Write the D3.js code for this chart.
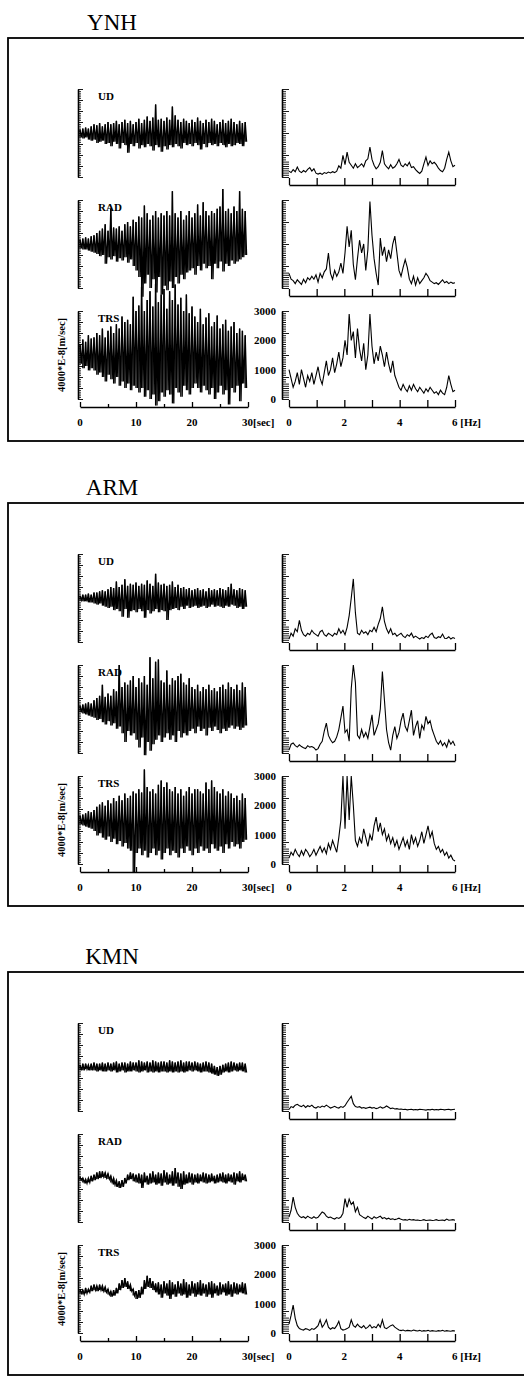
<!DOCTYPE html>
<html>
<head>
<meta charset="utf-8">
<script src="https://cdnjs.cloudflare.com/ajax/libs/d3/7.8.5/d3.min.js"></script>
<style>
  body { margin: 0; background: #fff; }
  svg { display: block; }
  text { font-family: "Liberation Serif", "DejaVu Serif", serif; fill: #000; }
</style>
</head>
<body>
<div id="chart"></div>
<script>
var stations = ["YNH", "ARM", "KMN"];
var components = ["UD", "RAD", "TRS"];
var timeStep = 0.5;      // sec per trace bin
var freqStep = 0.075;    // Hz per spectrum sample
var timeTicks = [0, 10, 20, 30];
var freqTicks = [0, 2, 4, 6];
var ampTicks = [0, 1000, 2000, 3000];

// seismogram band (max / min per 0.5 s bin), 1e-6 m/sec
var ynhUdHi = [3,4,5,4,6,8,7,9,6,8,10,8,9,11,8,10,12,9,11,8,10,13,9,12,15,11,14,26,12,13,11,14,12,24,16,12,10,13,11,9,12,10,14,11,9,12,10,13,11,8,10,12,9,11,13,10,8,11,9,10];
var ynhUdLo = [-4,-5,-4,-6,-7,-6,-9,-8,-7,-10,-9,-12,-8,-10,-14,-9,-11,-18,-10,-12,-9,-14,-11,-13,-10,-12,-16,-11,-13,-17,-12,-15,-11,-13,-10,-12,-14,-9,-11,-10,-12,-9,-11,-15,-10,-13,-9,-11,-10,-12,-9,-11,-13,-10,-12,-11,-9,-10,-12,-8];
var ynhRadHi = [4,5,6,5,7,8,10,12,14,18,12,32,15,14,16,12,18,20,16,22,20,25,24,35,28,22,26,30,24,28,26,30,26,48,28,24,30,22,26,30,24,28,36,26,38,30,26,30,28,32,34,50,30,32,28,34,30,48,32,30];
var ynhRadLo = [-4,-5,-5,-6,-7,-8,-9,-11,-10,-18,-12,-14,-11,-16,-13,-15,-12,-17,-14,-20,-24,-30,-48,-36,-28,-40,-32,-44,-30,-46,-38,-42,-34,-40,-30,-36,-28,-32,-26,-24,-22,-28,-20,-24,-18,-22,-20,-32,-18,-22,-16,-25,-18,-20,-15,-18,-16,-14,-12,-10];
var ynhTrsHi = [10,14,12,18,15,16,20,18,24,16,22,26,20,28,24,35,30,32,28,53,40,45,62,40,50,58,44,65,48,55,60,42,58,50,64,46,52,40,55,38,44,35,30,42,28,34,38,26,30,36,24,28,32,22,26,30,20,24,22,18];
var ynhTrsLo = [-8,-12,-10,-14,-12,-14,-18,-16,-20,-24,-18,-22,-26,-20,-28,-24,-30,-26,-32,-28,-30,-34,-30,-38,-32,-40,-36,-46,-42,-34,-38,-32,-36,-44,-30,-34,-38,-28,-32,-36,-30,-26,-30,-34,-28,-32,-36,-30,-40,-34,-28,-36,-32,-45,-30,-34,-28,-42,-26,-30];

var armUdHi = [2,3,3,4,3,5,5,6,7,6,8,10,9,15,10,12,17,11,13,12,14,11,13,12,16,13,11,22,14,12,13,11,12,15,10,12,9,10,8,9,7,8,9,7,8,6,9,7,8,7,9,8,7,10,13,8,7,9,8,7];
var armUdLo = [-2,-3,-3,-4,-4,-5,-6,-5,-7,-8,-9,-8,-11,-10,-12,-17,-10,-18,-12,-11,-13,-10,-12,-18,-11,-14,-12,-10,-13,-11,-12,-20,-11,-10,-9,-11,-8,-10,-7,-9,-8,-7,-9,-8,-7,-9,-8,-6,-8,-7,-8,-9,-7,-8,-6,-7,-9,-8,-10,-8];
var armRadHi = [3,4,5,6,5,8,10,12,22,11,14,12,18,16,40,20,24,22,26,30,20,28,24,30,22,47,28,43,45,26,24,35,22,28,26,30,32,24,22,28,20,18,22,16,20,18,22,17,19,16,20,22,18,24,20,18,22,17,24,20];
var armRadLo = [-3,-4,-5,-6,-7,-8,-10,-9,-12,-14,-11,-15,-13,-18,-16,-22,-30,-20,-24,-22,-28,-35,-26,-42,-30,-38,-32,-28,-24,-30,-26,-22,-28,-24,-30,-20,-26,-22,-24,-20,-18,-22,-16,-20,-18,-24,-17,-20,-16,-19,-22,-18,-20,-17,-15,-18,-16,-19,-17,-15];
var armTrsHi = [4,5,6,8,7,9,12,14,16,13,18,15,20,17,22,18,24,20,22,26,24,28,25,46,30,26,28,24,32,36,30,34,28,26,30,24,28,22,26,30,24,28,28,26,24,34,28,36,30,26,24,28,22,26,24,20,22,18,24,20];
var armTrsLo = [-4,-5,-6,-7,-8,-10,-14,-12,-16,-18,-15,-20,-17,-22,-19,-24,-21,-26,-28,-48,-30,-26,-32,-28,-34,-30,-26,-32,-28,-36,-30,-26,-32,-28,-30,-34,-26,-30,-24,-28,-32,-26,-30,-24,-28,-26,-30,-22,-26,-28,-24,-30,-22,-26,-20,-24,-22,-26,-20,-18];

var kmnUdHi = [2,3,3,2,3,4,3,3,4,3,4,3,4,5,3,4,4,3,5,4,4,6,5,4,5,4,6,5,4,5,5,4,6,5,4,5,6,4,5,5,4,5,4,3,4,5,4,3,1,0,1,2,3,4,5,4,3,4,4,3];
var kmnUdLo = [-3,-3,-2,-3,-3,-3,-4,-3,-4,-4,-3,-4,-3,-5,-4,-3,-5,-4,-4,-3,-4,-5,-4,-3,-5,-4,-5,-4,-5,-4,-4,-5,-4,-5,-4,-5,-4,-5,-4,-3,-4,-3,-4,-5,-4,-4,-5,-6,-7,-8,-7,-5,-4,-5,-4,-3,-4,-3,-4,-5];
var kmnRadHi = [1,0,-1,0,2,3,5,6,6,5,4,2,0,-2,-3,-2,0,3,5,4,3,4,3,5,2,4,6,3,5,4,7,5,3,6,9,5,4,6,3,5,4,3,4,3,5,4,3,4,2,3,4,5,3,4,3,5,4,6,4,3];
var kmnRadLo = [-2,-4,-5,-4,-3,-2,-1,0,1,0,-1,-4,-6,-8,-9,-8,-5,-2,-1,-3,-4,-5,-9,-4,-6,-5,-4,-6,-5,-7,-4,-6,-5,-7,-5,-8,-10,-6,-5,-4,-6,-4,-5,-3,-4,-5,-4,-3,-5,-4,-3,-4,-5,-3,-4,-6,-3,-4,-2,-3];
var kmnTrsHi = [0,-1,1,0,3,4,3,4,3,2,0,-2,-1,1,5,8,10,7,4,0,-2,-1,2,8,12,10,7,5,6,4,7,5,8,6,4,7,5,9,6,4,7,5,6,8,5,4,6,7,5,3,6,4,5,7,4,6,5,4,6,5];
var kmnTrsLo = [-4,-5,-4,-3,-2,-1,-2,-1,-2,-3,-5,-7,-6,-4,-1,1,2,0,-2,-6,-9,-8,-5,0,2,1,-1,-3,-5,-8,-4,-6,-9,-5,-7,-4,-6,-5,-8,-6,-4,-7,-5,-6,-4,-7,-5,-8,-4,-6,-5,-3,-6,-5,-7,-4,-5,-3,-4,-5];

// Fourier spectra, 0 - 6 Hz every 0.075 Hz
var ynhUdSpec = [200,150,250,180,340,200,150,220,170,260,320,200,280,130,100,130,90,150,120,170,140,180,150,200,380,300,740,420,850,500,400,300,450,320,380,450,350,550,620,1020,600,400,280,350,500,900,450,350,280,420,300,350,450,600,400,350,450,380,500,320,350,250,180,120,200,450,680,400,550,450,500,420,300,220,180,300,600,850,550,350,400];
var ynhRadSpec = [500,300,250,150,280,200,120,300,180,350,280,400,300,450,200,500,350,550,650,1190,500,300,600,400,550,850,500,1200,2100,1400,1970,800,280,1000,1630,1200,1500,600,1300,2950,1800,1000,500,100,1700,1100,1400,900,1300,1000,1500,1770,1200,600,400,700,970,700,300,150,400,100,350,150,250,350,500,400,250,200,150,180,120,200,280,180,220,150,200,160,180];
var ynhTrsSpec = [1000,700,400,600,900,500,1000,700,400,800,600,900,500,800,1100,700,500,900,1300,800,1000,1400,900,1200,1600,1100,1400,2000,1500,2900,2000,2300,1400,2400,1700,1300,1900,1000,1500,2900,1800,1200,1600,1300,1800,1500,1100,1600,1200,900,1300,800,600,400,300,500,350,250,450,300,500,350,250,400,300,200,350,250,400,300,200,250,150,300,200,150,400,800,500,250,300];
var armUdSpec = [100,300,200,450,350,740,400,250,200,300,250,400,300,250,200,350,400,250,200,300,250,200,300,250,450,300,400,250,500,900,1500,2150,1000,300,250,400,300,350,250,400,350,500,350,600,800,1200,700,450,300,450,250,300,200,250,300,200,150,250,200,300,150,200,150,100,150,120,200,150,250,300,150,120,180,150,270,130,120,180,100,150,120];
var armRadSpec = [100,300,340,250,200,280,220,180,150,250,200,220,180,100,150,300,400,750,1020,600,450,350,400,550,800,1200,1600,700,800,400,2200,3000,2400,600,500,800,550,700,500,900,1300,600,800,1000,1500,2780,1800,800,350,100,600,900,500,700,1100,1360,900,750,1100,1460,600,900,1100,500,950,800,1250,1000,1100,800,600,400,300,420,250,350,200,440,300,400,250];
var armTrsSpec = [200,400,300,500,350,250,450,300,500,400,250,350,500,300,450,600,400,550,350,700,500,800,600,400,900,1500,3000,1200,3000,1500,3000,2000,800,600,900,700,1200,900,600,1000,800,1300,1600,1100,1400,1000,1200,800,1000,700,900,600,800,500,700,900,600,800,500,1000,700,900,600,800,1100,700,1000,1300,900,1100,700,500,600,400,500,300,400,200,300,150,100];
var kmnUdSpec = [50,150,120,200,230,180,150,200,120,180,150,200,130,100,150,120,170,140,200,150,100,130,160,120,100,150,120,180,300,400,500,250,150,130,150,100,120,90,110,130,100,120,80,100,140,100,120,170,130,80,100,70,80,60,70,50,60,40,50,60,40,50,40,60,50,40,30,50,40,60,40,50,40,60,50,40,50,60,40,50,60];
var kmnRadSpec = [170,400,850,500,300,200,150,180,130,200,150,120,180,130,160,250,340,300,200,150,170,130,100,150,120,170,300,800,500,780,600,680,350,500,250,200,150,120,200,150,100,180,130,160,200,120,150,100,130,90,110,80,100,130,90,70,80,60,90,70,80,60,70,50,60,80,50,60,70,50,60,80,50,60,70,50,100,60,70,80,60];
var kmnTrsSpec = [300,600,950,500,250,150,120,100,150,130,90,150,120,180,250,450,200,300,450,200,130,180,150,250,400,150,100,120,150,200,450,250,200,300,220,180,250,150,200,280,170,220,180,300,200,450,180,150,200,250,280,200,150,100,80,100,70,90,80,70,100,80,70,90,60,80,70,90,60,80,70,60,80,70,90,60,80,70,60,80,70];

var panels = [
  { hi: [ynhUdHi, ynhRadHi, ynhTrsHi], lo: [ynhUdLo, ynhRadLo, ynhTrsLo], spec: [ynhUdSpec, ynhRadSpec, ynhTrsSpec] },
  { hi: [armUdHi, armRadHi, armTrsHi], lo: [armUdLo, armRadLo, armTrsLo], spec: [armUdSpec, armRadSpec, armTrsSpec] },
  { hi: [kmnUdHi, kmnRadHi, kmnTrsHi], lo: [kmnUdLo, kmnRadLo, kmnTrsLo], spec: [kmnUdSpec, kmnRadSpec, kmnTrsSpec] }
];

var width = 524;
var height = 1377;

var svg = d3.select("#chart").append("svg")
    .attr("width", width)
    .attr("height", height);

var panelTop = [0, 465, 934];
var rowTop = [89, 200, 311];
var rowH = 88;

var xt = d3.scaleLinear().domain([0, 30]).range([80, 248]);
var xf = d3.scaleLinear().domain([0, 6]).range([289, 455]);

function thin(g, w) {
  g.selectAll("path, line").attr("stroke", "#000").attr("stroke-width", w);
}

panels.forEach(function(p, pi) {
  var g = svg.append("g").attr("transform", "translate(0," + panelTop[pi] + ")");

  g.append("text")
      .attr("x", 112)
      .attr("y", 30)
      .attr("text-anchor", "middle")
      .attr("font-size", 23)
      .text(stations[pi]);

  g.append("rect")
      .attr("x", 8)
      .attr("y", 38)
      .attr("width", 530)
      .attr("height", 403)
      .attr("fill", "none")
      .attr("stroke", "#000")
      .attr("stroke-width", 1.8);

  components.forEach(function(c, ci) {
    var top = rowTop[ci];
    var bottom = top + rowH;
    var yA = d3.scaleLinear().domain([-40, 40]).range([bottom, top]);
    var yS = d3.scaleLinear().domain([0, 3000]).range([bottom, top]);

    // time-series ruler
    var ay = g.append("g")
        .attr("transform", "translate(78,0)")
        .call(d3.axisRight(yA).tickValues(d3.range(-40, 41, 2)).tickSize(3).tickSizeOuter(0).tickFormat(""));
    ay.selectAll(".tick line").attr("x2", function(d) { return d % 10 === 0 ? 5 : 3; });
    thin(ay, 0.9);
    ay.select(".domain").attr("stroke-width", 1.6);

    g.append("text")
        .attr("x", 98)
        .attr("y", top + 11)
        .attr("font-size", 11)
        .attr("font-weight", "bold")
        .text(c);

    var band = p.hi[ci].map(function(v, i) {
      return { t: i * timeStep, hi: v, lo: p.lo[ci][i] };
    });

    // min-max bars, one per bin
    g.append("g")
        .selectAll("line")
        .data(band)
        .enter().append("line")
        .attr("x1", function(d) { return xt(d.t); })
        .attr("x2", function(d) { return xt(d.t); })
        .attr("y1", function(d) { return yA(d.hi); })
        .attr("y2", function(d) { return yA(d.lo); })
        .attr("stroke", "#000")
        .attr("stroke-width", 1.3);

    var pts = [];
    band.forEach(function(d) {
      pts.push([d.t, d.hi]);
      pts.push([d.t + timeStep / 2, d.lo]);
    });

    g.append("path")
        .datum(pts)
        .attr("fill", "none")
        .attr("stroke", "#000")
        .attr("stroke-width", 1.3)
        .attr("d", d3.line()
            .x(function(d) { return xt(d[0]); })
            .y(function(d) { return yA(d[1]); }));

    // spectrum ruler
    var sy = g.append("g")
        .attr("transform", "translate(282,0)")
        .call(d3.axisRight(yS).tickValues(d3.range(0, 3001, 75)).tickSize(4).tickSizeOuter(0).tickFormat(""));
    sy.selectAll(".tick line").attr("x2", function(d) {
      if (d % 750 === 0) return 7;
      return d < 600 ? 7 : 4;
    });
    thin(sy, 0.9);
    sy.select(".domain").attr("stroke-width", 1.6);

    var sx = g.append("g")
        .attr("transform", "translate(0," + (bottom + 8) + ")")
        .call(d3.axisTop(xf).ticks(6).tickSize(7).tickSizeOuter(0).tickFormat(""));
    thin(sx, 1.3);

    var spec = p.spec[ci];
    g.append("path")
        .datum(spec)
        .attr("fill", "none")
        .attr("stroke", "#000")
        .attr("stroke-width", 1.1)
        .attr("d", d3.line()
            .x(function(d, i) { return xf(i * freqStep); })
            .y(function(d) { return yS(d); }));

    if (ci === 2) {
      var tx = g.append("g")
          .attr("transform", "translate(0," + (bottom + 8) + ")")
          .call(d3.axisTop(xt).tickValues(d3.range(0, 31, 5)).tickSize(3).tickSizeOuter(0).tickFormat(""));
      tx.selectAll(".tick line").attr("y2", function(d) { return d % 10 === 0 ? -5 : -3; });
      thin(tx, 1.3);

      g.selectAll(".tlab" + pi)
          .data(timeTicks)
          .enter().append("text")
          .attr("x", function(d) { return xt(d); })
          .attr("y", bottom + 27)
          .attr("text-anchor", function(d) { return d === 30 ? "start" : "middle"; })
          .attr("dx", function(d) { return d === 30 ? -6 : 0; })
          .attr("font-size", 11)
          .attr("font-weight", "bold")
          .text(function(d) { return d === 30 ? "30[sec]" : d; });

      g.selectAll(".flab" + pi)
          .data(freqTicks)
          .enter().append("text")
          .attr("x", function(d) { return xf(d); })
          .attr("y", bottom + 27)
          .attr("text-anchor", function(d) { return d === 6 ? "start" : "middle"; })
          .attr("dx", function(d) { return d === 6 ? -3 : 0; })
          .attr("font-size", 11)
          .attr("font-weight", "bold")
          .text(function(d) { return d === 6 ? "6 [Hz]" : d; });

      g.selectAll(".alab" + pi)
          .data(ampTicks)
          .enter().append("text")
          .attr("x", 276)
          .attr("y", function(d) { return yS(d); })
          .attr("dy", "0.35em")
          .attr("text-anchor", "end")
          .attr("font-size", 11)
          .attr("font-weight", "bold")
          .text(function(d) { return d; });

      g.append("text")
          .attr("transform", "translate(61," + (top + rowH / 2) + ") rotate(-90)")
          .attr("text-anchor", "middle")
          .attr("dy", "0.35em")
          .attr("font-size", 10.5)
          .attr("font-weight", "bold")
          .text("4000*E-8[m/sec]");
    }
  });
});
</script>
</body>
</html>
